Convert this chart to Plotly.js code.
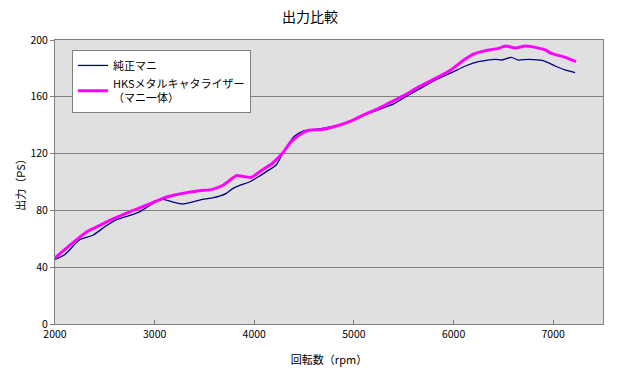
<!DOCTYPE html>
<html>
<head>
<meta charset="utf-8">
<script src="https://cdn.plot.ly/plotly-3.0.1.min.js"></script>
<style>html,body{margin:0;padding:0;background:#fff;}#chart{width:620px;height:375px;}</style>
</head>
<body>
<div id="chart"></div>
<script>
const rpmStock = [2000,2100,2250,2380,2500,2620,2750,2850,2950,3080,3180,3280,3380,3480,3580,3650,3720,3780,3860,3950,4050,4120,4220,4300,4400,4500,4580,4650,4750,4850,4980,5100,5250,5400,5520,5650,5820,5980,6120,6250,6420,6480,6580,6650,6750,6900,7020,7120,7220];
const psStock  = [45.5,49,59.5,62.5,68.5,73.5,76.5,79,83.5,87.8,86,84.5,86,87.8,88.8,90,92,95.2,97.8,100,104,107.3,112,122,132,136.2,136.6,137.4,138.6,140,143,147,151,155,160,165.2,171.8,177,181.7,184.7,186.4,185.9,187.8,185.9,186.4,185.4,181.7,178.9,177];
const rpmHks   = [2000,2150,2320,2450,2550,2750,2950,3080,3180,3280,3450,3580,3680,3750,3820,3880,3970,4080,4180,4280,4370,4480,4550,4680,4850,4980,5120,5250,5380,5520,5650,5820,5980,6080,6200,6320,6450,6520,6620,6720,6820,6920,6980,7120,7230];
const psHks    = [46.5,55.5,65,69.5,73,79,84.5,88.5,90.5,92,93.8,94.8,97.5,101,104.5,104,103.3,108.5,113,120,128.4,134.3,136.4,137,140,143.2,147.9,151.9,156.6,161.5,167,173,179.3,184.7,190,192.5,194.1,195.8,194.4,195.8,194.8,193,190.6,187.8,184.7];
const seriesNames = ["純正マニ", "HKSメタルキャタライザー<br>（マニ一体）"];
const xTicks = [2000,3000,4000,5000,6000,7000];
const yTicks = [0,40,80,120,160,200];

const font = '"Noto Sans CJK JP", "Noto Sans", sans-serif';
const traces = [
  {x: rpmStock, y: psStock, name: seriesNames[0], mode: 'lines',
   line: {color: '#000080', width: 1.3, shape: 'spline', smoothing: 0.6}},
  {x: rpmHks, y: psHks, name: seriesNames[1], mode: 'lines',
   line: {color: '#ff00ff', width: 3, shape: 'spline', smoothing: 0.6}}
];
const layout = {
  width: 620, height: 375,
  margin: {l: 55, r: 17, t: 40, b: 51},
  paper_bgcolor: '#ffffff',
  plot_bgcolor: '#e0e0e0',
  font: {family: font, size: 11, color: '#000'},
  title: {text: '出力比較', font: {family: font, size: 14, color: '#000'}, x: 0.5, xanchor: 'center', y: 0.955, yanchor: 'middle'},
  xaxis: {range: [2000, 7500], tickvals: xTicks, ticks: 'inside', ticklen: 4, tickcolor: '#808080',
          showgrid: false, zeroline: false, showline: true, linecolor: '#808080', linewidth: 1, mirror: true,
          title: {text: '回転数（rpm）', font: {family: font, size: 11}, standoff: 16},
          tickfont: {family: font, size: 10.5}},
  yaxis: {range: [0, 200], tickvals: yTicks, ticks: 'outside', ticklen: 4, tickcolor: '#808080',
          showgrid: true, gridcolor: '#808080', gridwidth: 1, zeroline: false,
          showline: true, linecolor: '#808080', linewidth: 1, mirror: true,
          title: {text: '出力（PS）', font: {family: font, size: 11}, standoff: 2},
          tickfont: {family: font, size: 10.5}},
  showlegend: true,
  legend: {x: 0.031, y: 0.965, xanchor: 'left', yanchor: 'top', bgcolor: '#ffffff',
           bordercolor: '#808080', borderwidth: 1, font: {family: font, size: 11},
           tracegroupgap: 8, itemwidth: 30}
};
Plotly.newPlot('chart', traces, layout, {displayModeBar: false, staticPlot: true});
</script>
</body>
</html>
